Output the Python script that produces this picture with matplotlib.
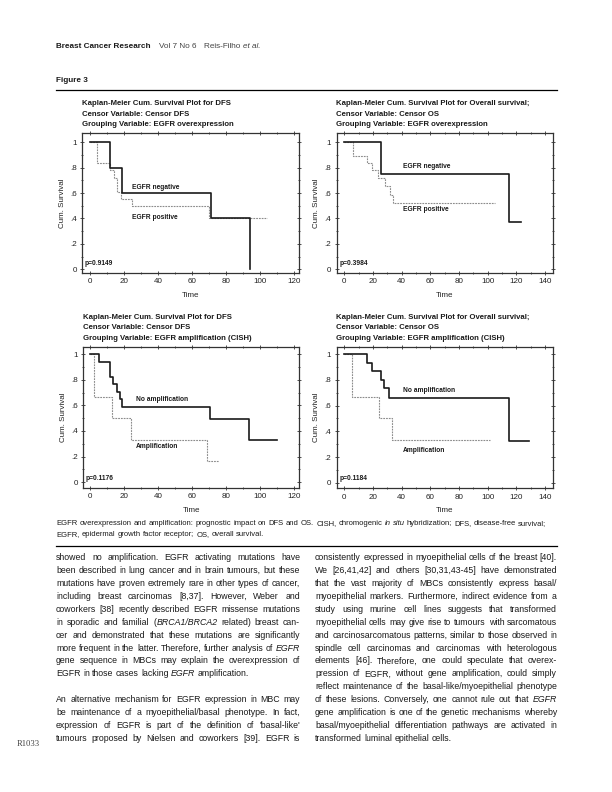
import matplotlib
matplotlib.use("Agg")
import matplotlib.pyplot as plt
from matplotlib.ticker import MultipleLocator

plt.rcParams['font.family'] = ['Liberation Sans', 'DejaVu Sans']

# ---------------- data ----------------
# Panel A: DFS by EGFR overexpression
dfs_neg_t = [0, 12, 19, 71, 94]
dfs_neg_s = [1.0, 0.8, 0.6, 0.4, 0.0]
dfs_pos_t = [0, 4, 12, 14, 16, 18, 24.5, 70, 104]
dfs_pos_s = [1.0, 0.833, 0.778, 0.722, 0.611, 0.556, 0.5, 0.4, 0.4]
# Panel B: OS by EGFR overexpression
os_neg_t = [0, 25.6, 114.7, 123]
os_neg_s = [1.0, 0.75, 0.375, 0.375]
os_pos_t = [0, 5.8, 15.6, 19, 23.3, 28.4, 31.6, 34, 105]
os_pos_s = [1.0, 0.889, 0.833, 0.778, 0.722, 0.654, 0.585, 0.52, 0.52]
# Panel C: DFS by EGFR amplification
dfs_noamp_t = [0, 5.5, 11.8, 13.7, 15.7, 17.6, 18.6, 70.6, 93.5, 109.8]
dfs_noamp_s = [1.0, 0.941, 0.824, 0.765, 0.706, 0.647, 0.588, 0.49, 0.327, 0.327]
dfs_amp_t = [0, 2.5, 12.7, 24, 69, 76]
dfs_amp_s = [1.0, 0.667, 0.5, 0.333, 0.167, 0.167]
# Panel D: OS by EGFR amplification
os_noamp_t = [0, 15.6, 19, 25.6, 27.7, 31.2, 114.9, 128.7]
os_noamp_s = [1.0, 0.933, 0.867, 0.8, 0.733, 0.655, 0.327, 0.327]
os_amp_t = [0, 5.1, 24.2, 33.5, 101.6]
os_amp_s = [1.0, 0.667, 0.5, 0.333, 0.333]

titles = [
    ["Kaplan-Meier Cum. Survival Plot for DFS", "Censor Variable: Censor DFS",
     "Grouping Variable: EGFR overexpression"],
    ["Kaplan-Meier Cum. Survival Plot for Overall survival;", "Censor Variable: Censor OS",
     "Grouping Variable: EGFR overexpression"],
    ["Kaplan-Meier Cum. Survival Plot for DFS", "Censor Variable: Censor DFS",
     "Grouping Variable: EGFR amplification (CISH)"],
    ["Kaplan-Meier Cum. Survival Plot for Overall survival;", "Censor Variable: Censor OS",
     "Grouping Variable: EGFR amplification (CISH)"],
]
group_labels = [["EGFR negative", "EGFR positive"], ["EGFR negative", "EGFR positive"],
                ["No amplification", "Amplification"], ["No amplification", "Amplification"]]
p_values = ["p=0.9149", "p=0.3984", "p=0.1176", "p=0.1184"]
y_ticks = [0, 0.2, 0.4, 0.6, 0.8, 1.0]
y_ticklabels = ["0", ".2", ".4", ".6", ".8", "1"]

caption = ["EGFR overexpression and amplification: prognostic impact on DFS and OS. CISH, chromogenic *in situ* hybridization; DFS, disease-free survival;",
           "EGFR, epidermal growth factor receptor; OS, overall survival."]

left_col = [
    ("showed no amplification. EGFR activating mutations have", True),
    ("been described in lung cancer and in brain tumours, but these", True),
    ("mutations have proven extremely rare in other types of cancer,", True),
    ("including breast carcinomas [8,37]. However, Weber and", True),
    ("coworkers [38] recently described EGFR missense mutations", True),
    ("in sporadic and familial (*BRCA1/BRCA2* related) breast can-", True),
    ("cer and demonstrated that these mutations are significantly", True),
    ("more frequent in the latter. Therefore, further analysis of *EGFR*", True),
    ("gene sequence in MBCs may explain the overexpression of", True),
    ("EGFR in those cases lacking *EGFR* amplification.", False),
    ("", False),
    ("An alternative mechanism for EGFR expression in MBC may", True),
    ("be maintenance of a myoepithelial/basal phenotype. In fact,", True),
    ("expression of EGFR is part of the definition of 'basal-like'", True),
    ("tumours proposed by Nielsen and coworkers [39]. EGFR is", True),
]
right_col = [
    ("consistently expressed in myoepithelial cells of the breast [40].", True),
    ("We [26,41,42] and others [30,31,43-45] have demonstrated", True),
    ("that the vast majority of MBCs consistently express basal/", True),
    ("myoepithelial markers. Furthermore, indirect evidence from a", True),
    ("study using murine cell lines suggests that transformed", True),
    ("myoepithelial cells may give rise to tumours with sarcomatous", True),
    ("and carcinosarcomatous patterns, similar to those observed in", True),
    ("spindle cell carcinomas and carcinomas with heterologous", True),
    ("elements [46]. Therefore, one could speculate that overex-", True),
    ("pression of EGFR, without gene amplification, could simply", True),
    ("reflect maintenance of the basal-like/myoepithelial phenotype", True),
    ("of these lesions. Conversely, one cannot rule out that *EGFR*", True),
    ("gene amplification is one of the genetic mechanisms whereby", True),
    ("basal/myoepithelial differentiation pathways are activated in", True),
    ("transformed luminal epithelial cells.", False),
]

# ---------------- figure ----------------
W, H = 612, 792
fig = plt.figure(figsize=(W / 100, H / 100), dpi=100)
renderer = fig.canvas.get_renderer()

def fx(px):
    return px / W

def fy(py):
    return 1 - py / H

def text_width(t):
    return t.get_window_extent(renderer=renderer).width

def fit_size(s, target, **kw):
    t = fig.text(0, 0, s, fontsize=10, **kw)
    w = text_width(t)
    t.remove()
    return 10 * target / w

def parse_words(line):
    words = []
    italic = False
    cur = []
    buf = ""
    for ch in line:
        if ch == '*':
            if buf:
                cur.append((buf, italic))
                buf = ""
            italic = not italic
        elif ch == ' ':
            if buf:
                cur.append((buf, italic))
                buf = ""
            if cur:
                words.append(cur)
            cur = []
        else:
            buf += ch
    if buf:
        cur.append((buf, italic))
    if cur:
        words.append(cur)
    return words

def draw_line(x0, x1, y, line, justify, size, color='#1a1a1a'):
    words = parse_words(line)
    if not words:
        return
    arts = []
    widths = []
    for w in words:
        segs = []
        wsum = 0
        for s, it in w:
            t = fig.text(0, fy(y), s, fontsize=size, style='italic' if it else 'normal',
                         va='baseline', ha='left', color=color)
            sw = text_width(t)
            segs.append((t, sw))
            wsum += sw
        arts.append(segs)
        widths.append(wsum)
    t_sp = fig.text(0, 0, "a a", fontsize=size)
    t_ns = fig.text(0, 0, "aa", fontsize=size)
    space = text_width(t_sp) - text_width(t_ns)
    t_sp.remove(); t_ns.remove()
    if justify and len(words) > 1:
        gap = (x1 - x0 - sum(widths)) / (len(words) - 1)
    else:
        gap = space
    x = x0
    for segs, wsum in zip(arts, widths):
        xx = x
        for t, sw in segs:
            t.set_x(fx(xx))
            xx += sw
        x += wsum + gap

# header
hs = 5.9
x = 56
t_h = fig.text(fx(x), fy(48), "Breast Cancer Research", fontsize=hs, weight='bold', color='#1a1a1a', va='baseline')
x += text_width(t_h) + 8
t_h = fig.text(fx(x), fy(48), "Vol 7 No 6", fontsize=hs, color='#444444', va='baseline')
x += text_width(t_h) + 8
t_h = fig.text(fx(x), fy(48), "Reis-Filho ", fontsize=hs, color='#444444', va='baseline')
x += text_width(t_h)
fig.text(fx(x), fy(48), "et al.", fontsize=hs, color='#444444', va='baseline', style='italic')

fig.text(fx(56), fy(82), "Figure 3", fontsize=hs, weight='bold', color='#1a1a1a', va='baseline')
fig.add_artist(plt.Line2D([fx(56), fx(557)], [fy(90), fy(90)], color='black', lw=0.9))

# panels
boxes = [(82.3, 299, 133, 272.7, (-4.5, 123), (-0.027, 1.073), 120),
         (336.7, 553.3, 133, 272.7, (-5.3, 145.8), (-0.027, 1.073), 140),
         (83.3, 299.3, 346.7, 487.7, (-4.0, 123), (-0.042, 1.057), 120),
         (336.7, 553.3, 346.7, 488.3, (-5.3, 145.8), (-0.042, 1.057), 140)]
series = [((dfs_neg_t, dfs_neg_s), (dfs_pos_t, dfs_pos_s)),
          ((os_neg_t, os_neg_s), (os_pos_t, os_pos_s)),
          ((dfs_noamp_t, dfs_noamp_s), (dfs_amp_t, dfs_amp_s)),
          ((os_noamp_t, os_noamp_s), (os_amp_t, os_amp_s))]
label_pos = [[(25, 0.64), (25, 0.41)], [(41, 0.81), (41, 0.467)],
             [(27, 0.647), (27, 0.28)], [(41, 0.714), (41, 0.254)]]

ts = fit_size("Kaplan-Meier Cum. Survival Plot for DFS", 150, weight='bold')
ls_ = fit_size("EGFR negative", 47, weight='bold')

for i, (l, r, t, b, xl, yl, xmax) in enumerate(boxes):
    ax = fig.add_axes([fx(l), fy(b), fx(r - l), (b - t) / H])
    ax.set_xlim(*xl)
    ax.set_ylim(*yl)
    (t1, s1), (t2, s2) = series[i]
    ax.step(t2, s2, where='post', color='#8c8c8c', lw=0.8, ls=(0, (1.6, 0.9)))
    ax.step(t1, s1, where='post', color='#1a1a1a', lw=1.2)
    ax.set_xticks(list(range(0, xmax + 1, 20)))
    ax.set_xticklabels([str(v) for v in range(0, xmax + 1, 20)])
    ax.set_yticks(y_ticks)
    ax.set_yticklabels(y_ticklabels)
    ax.xaxis.set_minor_locator(MultipleLocator(10))
    ax.yaxis.set_minor_locator(MultipleLocator(0.1))
    ax.tick_params(which='both', top=True, right=True, direction='inout',
                   labelsize=5.8, labelcolor='#222222', color='#333333', width=0.6, pad=2.5)
    ax.tick_params(which='major', length=3)
    ax.tick_params(which='minor', length=2)
    for sp in ax.spines.values():
        sp.set_linewidth(0.9)
        sp.set_color('#333333')
    ax.set_xlabel("Time", fontsize=5.8, labelpad=4.5, color='#222222')
    ax.set_ylabel("Cum. Survival", fontsize=5.8, labelpad=3, color='#222222')
    for (lx, ly), lab in zip(label_pos[i], group_labels[i]):
        ax.text(lx, ly, lab, fontsize=ls_, weight='bold', va='center', ha='left', color='#1a1a1a')
    ax.text(0.012, 0.067, p_values[i], transform=ax.transAxes, fontsize=ls_, weight='bold',
            va='center', ha='left', color='#1a1a1a')
    for k, line in enumerate(titles[i]):
        fig.text(fx(l - 0.5), fy(t - 29.5 + 10.5 * k), line, fontsize=ts, weight='bold',
                 va='center', ha='left', color='#1a1a1a')

# caption
cs = fit_size("EGFR overexpression and amplification: prognostic impact on DFS and OS. CISH, chromogenic in situ hybridization; DFS, disease-free survival;", 488)
draw_line(56, 557, 525, caption[0], False, cs)
draw_line(56, 557, 536, caption[1], False, cs)
fig.add_artist(plt.Line2D([fx(56), fx(557)], [fy(546), fy(546)], color='black', lw=0.9))

# body
bs = fit_size("EGFR in those cases lacking EGFR amplification.", 194)
for k, (line, just) in enumerate(left_col):
    draw_line(56, 300, 560 + 12.93 * k, line, just, bs)
for k, (line, just) in enumerate(right_col):
    draw_line(315, 557, 560 + 12.93 * k, line, just, bs)

fig.text(fx(17), fy(746), "R1033", fontsize=6.2, family='Liberation Serif', color='#444444', va='baseline')

fig.savefig("out.png", dpi=100)
